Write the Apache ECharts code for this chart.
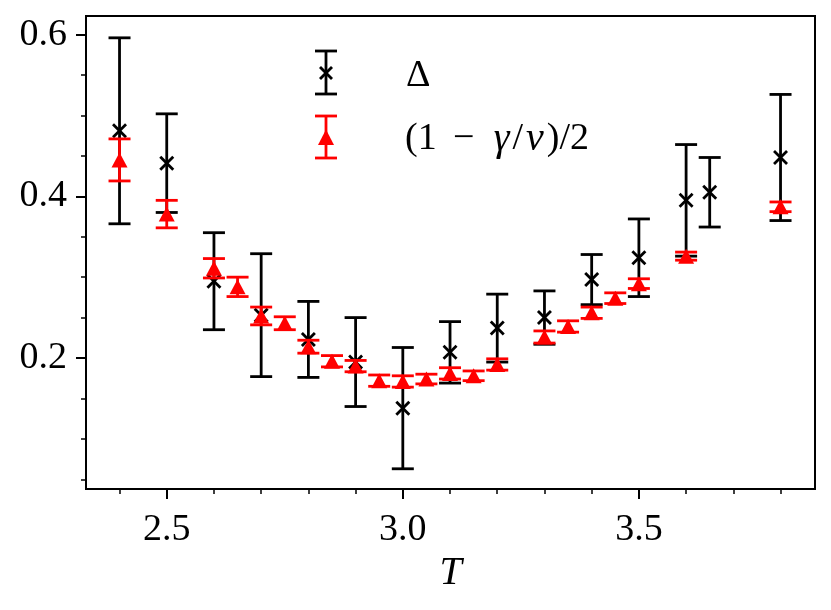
<!DOCTYPE html>
<html>
<head>
<meta charset="utf-8">
<script src="https://cdn.jsdelivr.net/npm/echarts@6/dist/echarts.min.js"></script>
<style>
html,body{margin:0;padding:0;background:#fff;}
#chart{width:831px;height:610px;}
</style>
</head>
<body>
<div id="chart"></div>
<script>
// ---- data ----
const T_delta = [2.4, 2.5, 2.6, 2.7, 2.8, 2.9, 3.0, 3.1, 3.2, 3.3, 3.4, 3.5, 3.6, 3.65, 3.8];
const delta = [0.481, 0.441, 0.295, 0.253, 0.223, 0.195, 0.138, 0.207, 0.237, 0.250, 0.297, 0.324, 0.395, 0.405, 0.448];
const deltaErr = [0.115, 0.061, 0.060, 0.076, 0.047, 0.055, 0.075, 0.038, 0.042, 0.033, 0.031, 0.048, 0.069, 0.043, 0.078];

const T_ratio = [2.4, 2.5, 2.6, 2.65, 2.7, 2.75, 2.8, 2.85, 2.9, 2.95, 3.0, 3.05, 3.1, 3.15, 3.2, 3.3, 3.35, 3.4, 3.45, 3.5, 3.6, 3.8];
const ratio = [0.445, 0.378, 0.311, 0.288, 0.252, 0.243, 0.214, 0.196, 0.190, 0.172, 0.171, 0.174, 0.181, 0.178, 0.192, 0.226, 0.239, 0.256, 0.274, 0.292, 0.326, 0.387];
const ratioErr = [0.026, 0.017, 0.012, 0.012, 0.011, 0.008, 0.008, 0.007, 0.007, 0.007, 0.007, 0.006, 0.007, 0.006, 0.007, 0.0075, 0.007, 0.007, 0.0066, 0.006, 0.005, 0.006];

const xMajorTicks = [2.5, 3.0, 3.5];
const xMinorTicks = [2.4, 2.6, 2.7, 2.8, 2.9, 3.1, 3.2, 3.3, 3.4, 3.6, 3.7, 3.8];
const yMajorTicks = [0.2, 0.4, 0.6];
const yMinorTicks = [0.05, 0.1, 0.15, 0.25, 0.3, 0.35, 0.45, 0.5, 0.55];

const labelDelta = 'Δ';
const xName = 'T';

// ---- chart ----
const FONT = 'Liberation Serif';
const chart = echarts.init(document.getElementById('chart'), null, {renderer: 'canvas'});

const X_MIN = 2.329, X_MAX = 3.873, Y_MIN = 0.038, Y_MAX = 0.623;
const LW = 2.8;

function errRender(color, capHalf, lw, drawX) {
  return function (params, api) {
    const x = api.value(0), y = api.value(1), e = api.value(2);
    const top = api.coord([x, y + e]);
    const bot = api.coord([x, y - e]);
    const c = api.coord([x, y]);
    const st = {stroke: color, lineWidth: lw, fill: null};
    const ch = [
      {type: 'line', shape: {x1: top[0], y1: top[1], x2: bot[0], y2: bot[1]}, style: st},
      {type: 'line', shape: {x1: top[0] - capHalf, y1: top[1], x2: top[0] + capHalf, y2: top[1]}, style: st},
      {type: 'line', shape: {x1: bot[0] - capHalf, y1: bot[1], x2: bot[0] + capHalf, y2: bot[1]}, style: st}
    ];
    if (drawX) {
      const s = 6.5;
      ch.push({type: 'line', shape: {x1: c[0] - s, y1: c[1] - s, x2: c[0] + s, y2: c[1] + s}, style: st});
      ch.push({type: 'line', shape: {x1: c[0] - s, y1: c[1] + s, x2: c[0] + s, y2: c[1] - s}, style: st});
    }
    return {type: 'group', children: ch};
  };
}

const deltaData = T_delta.map((t, i) => [t, delta[i], deltaErr[i]]);
const ratioData = T_ratio.map((t, i) => [t, ratio[i], ratioErr[i]]);

const axisLabelStyle = {fontFamily: FONT, fontSize: 38, color: '#000'};

const blk = {stroke: '#000', lineWidth: LW};
const red = {stroke: '#ff0000', lineWidth: LW};

const option = {
  animation: false,
  backgroundColor: '#fff',
  grid: {left: 86, top: 16, width: 729, height: 473, show: true, borderColor: '#000', borderWidth: 2, containLabel: false},
  xAxis: [{
    type: 'value', min: X_MIN, max: X_MAX, position: 'bottom',
    axisLine: {show: true, onZero: false, lineStyle: {color: '#000', width: 2}},
    axisTick: {show: true, inside: false, length: 10, lineStyle: {color: '#000', width: 2}, customValues: xMajorTicks},
    axisLabel: {show: true, margin: 22, customValues: xMajorTicks, formatter: v => Number(v).toFixed(1), ...axisLabelStyle},
    splitLine: {show: false},
    name: xName, nameLocation: 'middle', nameGap: 63,
    nameTextStyle: {fontFamily: FONT, fontSize: 40, fontStyle: 'italic', color: '#000'}
  }, {
    type: 'value', min: X_MIN, max: X_MAX, position: 'bottom', offset: 0,
    axisLine: {show: false, onZero: false},
    axisTick: {show: true, inside: false, length: 5, lineStyle: {color: '#000', width: 1.5}, customValues: xMinorTicks},
    axisLabel: {show: false},
    splitLine: {show: false}
  }],
  yAxis: [{
    type: 'value', min: Y_MIN, max: Y_MAX, position: 'left',
    axisLine: {show: true, onZero: false, lineStyle: {color: '#000', width: 2}},
    axisTick: {show: true, inside: false, length: 10, lineStyle: {color: '#000', width: 2}, customValues: yMajorTicks},
    axisLabel: {show: true, margin: 19, customValues: yMajorTicks, formatter: v => Number(v).toFixed(1), ...axisLabelStyle},
    splitLine: {show: false}
  }, {
    type: 'value', min: Y_MIN, max: Y_MAX, position: 'left', offset: 0,
    axisLine: {show: false, onZero: false},
    axisTick: {show: true, inside: false, length: 5, lineStyle: {color: '#000', width: 1.5}, customValues: yMinorTicks},
    axisLabel: {show: false},
    splitLine: {show: false}
  }],
  series: [{
    name: labelDelta, type: 'custom', xAxisIndex: 0, yAxisIndex: 0, z: 2,
    renderItem: errRender('#000', 11, LW, true),
    encode: {x: 0, y: [1, 2]},
    data: deltaData
  }, {
    name: '(1 − γ/ν)/2 err', type: 'custom', xAxisIndex: 0, yAxisIndex: 0, z: 3,
    renderItem: errRender('#ff0000', 11, LW, false),
    encode: {x: 0, y: 1},
    data: ratioData
  }, {
    name: '(1 − γ/ν)/2', type: 'scatter', xAxisIndex: 0, yAxisIndex: 0, z: 4,
    symbol: 'triangle', symbolSize: [16, 15],
    itemStyle: {color: '#ff0000', opacity: 1},
    data: ratioData.map(d => [d[0], d[1]])
  }],
  graphic: [
    // legend entry 1 (black error bar with x)
    {type: 'line', z: 10, silent: true, shape: {x1: 326, y1: 51, x2: 326, y2: 94}, style: blk},
    {type: 'line', z: 10, silent: true, shape: {x1: 315, y1: 51, x2: 337, y2: 51}, style: blk},
    {type: 'line', z: 10, silent: true, shape: {x1: 315, y1: 94, x2: 337, y2: 94}, style: blk},
    {type: 'line', z: 10, silent: true, shape: {x1: 320, y1: 67, x2: 332, y2: 79}, style: blk},
    {type: 'line', z: 10, silent: true, shape: {x1: 320, y1: 79, x2: 332, y2: 67}, style: blk},
    {type: 'text', z: 10, silent: true, x: 406, y: 76, style: {text: labelDelta, font: '38px "' + FONT + '"', fill: '#000', verticalAlign: 'middle'}},
    // legend entry 2 (red error bar with triangle)
    {type: 'line', z: 10, silent: true, shape: {x1: 326, y1: 116, x2: 326, y2: 158}, style: red},
    {type: 'line', z: 10, silent: true, shape: {x1: 315, y1: 116, x2: 337, y2: 116}, style: red},
    {type: 'line', z: 10, silent: true, shape: {x1: 315, y1: 158, x2: 337, y2: 158}, style: red},
    {type: 'polygon', z: 10, silent: true, shape: {points: [[326, 129.5], [318, 145], [334, 145]]}, style: {fill: '#ff0000'}},
    {type: 'text', z: 10, silent: true, x: 405, y: 139, style: {
      text: '(1{m|−}{it|γ}/{it|ν})/2', font: '38px "' + FONT + '"', fill: '#000', verticalAlign: 'middle',
      rich: {
        m: {fontFamily: FONT, fontSize: 38, fill: '#000', width: 54, align: 'center'},
        it: {fontFamily: FONT, fontSize: 40, fontStyle: 'italic', fill: '#000', padding: [0, 3, 0, 3]}
      }
    }}
  ]
};
chart.setOption(option);
</script>
</body>
</html>
